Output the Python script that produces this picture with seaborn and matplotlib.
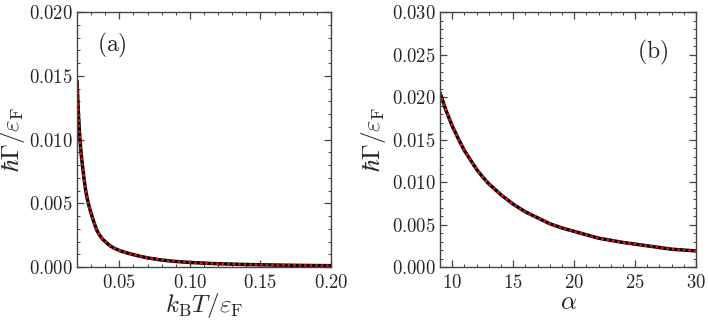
import matplotlib
matplotlib.use("Agg")
import matplotlib.pyplot as plt
import pandas as pd
import seaborn as sns
from matplotlib.ticker import MultipleLocator, FuncFormatter

# panel (a): damping vs temperature
temp = [0.020, 0.021, 0.022, 0.023, 0.024, 0.025, 0.026, 0.027, 0.028, 0.030,
        0.032, 0.034, 0.036, 0.038, 0.040, 0.043, 0.046, 0.050, 0.055, 0.060,
        0.065, 0.070, 0.080, 0.090, 0.100, 0.120, 0.140, 0.160, 0.180, 0.200]
gamma_t = [0.0146, 0.0120, 0.0101, 0.0088, 0.0078, 0.0069, 0.0061, 0.0055, 0.0050, 0.0042,
           0.0035, 0.0029, 0.0025, 0.0022, 0.0020, 0.0017, 0.0015, 0.0013, 0.00112, 0.00097,
           0.00084, 0.00072, 0.00055, 0.00044, 0.00036, 0.00026, 0.00020, 0.00016, 0.00013, 0.00011]

# panel (b): damping vs alpha
alpha = [9.0, 9.5, 10.0, 10.5, 11.0, 11.5, 12.0, 12.5, 13.0, 14.0, 15.0, 16.0, 17.0, 18.0,
         19.0, 20.0, 21.0, 22.0, 24.0, 26.0, 28.0, 30.0]
gamma_a = [0.0205, 0.0184, 0.0166, 0.0151, 0.0137, 0.0126, 0.0115, 0.0106, 0.0098, 0.0085,
           0.0074, 0.0065, 0.0058, 0.0051, 0.0046, 0.0042, 0.0038, 0.0034, 0.0029, 0.0025,
           0.0021, 0.0019]

sns.set_style("ticks")
plt.rcParams["font.family"] = ["DejaVu Serif"]
plt.rcParams["mathtext.fontset"] = "cm"

frame = "#444444"
ylabel = r"$\hbar\Gamma/\varepsilon_{\rm F}$"


def mfmt(fmt):
    return FuncFormatter(lambda v, pos: "$" + (fmt % v) + "$")


fig = plt.figure(figsize=(7.08, 3.21), dpi=100)
ax_a = fig.add_axes([0.1088, 0.168, 0.3588, 0.7944])
ax_b = fig.add_axes([0.6215, 0.168, 0.3616, 0.7944])

df_a = pd.DataFrame({"x": temp, "y": gamma_t})
df_b = pd.DataFrame({"x": alpha, "y": gamma_a})

for ax, df in [(ax_a, df_a), (ax_b, df_b)]:
    sns.lineplot(data=df, x="x", y="y", ax=ax, color="black", linewidth=2.5)
    sns.lineplot(data=df, x="x", y="y", ax=ax, color="#e8141a", linewidth=1.8,
                 linestyle=(0, (1, 1.2)))
    ax.tick_params(which="both", direction="in", top=True, right=True,
                   color=frame, labelsize=13.5, pad=3)
    ax.tick_params(axis="x", which="major", pad=5)
    ax.tick_params(which="major", length=5, width=0.9)
    ax.tick_params(which="minor", length=2.5, width=0.7)
    for sp in ax.spines.values():
        sp.set_color(frame)
        sp.set_linewidth(1.0)
    ax.set_ylabel(ylabel, fontsize=18)
    ax.yaxis.set_major_formatter(mfmt("%.3f"))

ax_a.set_xlim(0.02, 0.20)
ax_a.set_ylim(0, 0.020)
ax_a.set_xticks([0.05, 0.10, 0.15, 0.20])
ax_a.xaxis.set_minor_locator(MultipleLocator(0.01))
ax_a.yaxis.set_major_locator(MultipleLocator(0.005))
ax_a.yaxis.set_minor_locator(MultipleLocator(0.001))
ax_a.xaxis.set_major_formatter(mfmt("%.2f"))
ax_a.set_xlabel(r"$k_{\rm B}T/\varepsilon_{\rm F}$", fontsize=18)
ax_a.text(0.078, 0.87, r"$\mathrm{(a)}$", transform=ax_a.transAxes, fontsize=17, va="center")
ax_a.yaxis.set_label_coords(-0.195, 0.5)
ax_a.xaxis.set_label_coords(0.5, -0.095)

ax_b.set_xlim(9, 30)
ax_b.set_ylim(0, 0.030)
ax_b.set_xticks([10, 15, 20, 25, 30])
ax_b.xaxis.set_minor_locator(MultipleLocator(1))
ax_b.yaxis.set_major_locator(MultipleLocator(0.005))
ax_b.yaxis.set_minor_locator(MultipleLocator(0.001))
ax_b.xaxis.set_major_formatter(mfmt("%d"))
ax_b.set_xlabel(r"$\alpha$", fontsize=18)
ax_b.text(0.77, 0.84, r"$\mathrm{(b)}$", transform=ax_b.transAxes, fontsize=17, va="center")
ax_b.yaxis.set_label_coords(-0.205, 0.5)
ax_b.xaxis.set_label_coords(0.5, -0.095)

fig.savefig("out.png", dpi=100)
